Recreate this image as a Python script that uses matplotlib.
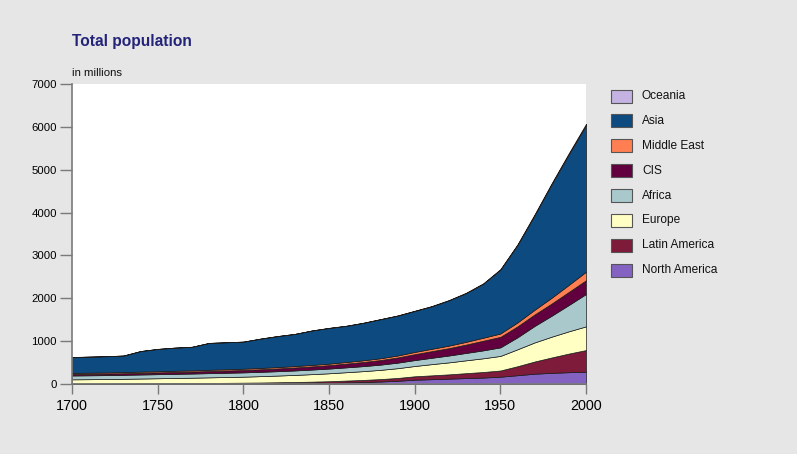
import matplotlib
matplotlib.use("Agg")
import matplotlib.pyplot as plt
from matplotlib import font_manager
from matplotlib.patches import Rectangle

# World population by region, in millions, one value per decade
years = list(range(1700, 2001, 10))
north_america = [2, 2, 2, 3, 3, 3, 4, 4, 5, 6, 7, 9, 12, 15, 20, 27, 36, 45, 58, 75,
                 100, 112, 125, 138, 150, 170, 205, 240, 260, 275, 287]
latin_america = [12, 12, 13, 14, 15, 16, 17, 18, 20, 22, 24, 26, 29, 32, 35, 38, 44, 50, 57, 66,
                 80, 90, 100, 115, 130, 145, 210, 285, 360, 435, 505]
europe = [95, 98, 100, 104, 110, 115, 120, 125, 130, 135, 140, 148, 156, 165, 175, 185, 195, 205, 215, 228,
          240, 262, 280, 300, 320, 340, 395, 445, 485, 520, 553]
africa = [90, 91, 92, 93, 94, 95, 96, 97, 98, 99, 100, 101, 102, 104, 107, 110, 113, 117, 122, 129,
          138, 148, 160, 172, 185, 200, 280, 385, 490, 615, 755]
cis = [35, 36, 37, 38, 40, 42, 44, 46, 50, 53, 56, 60, 64, 69, 74, 80, 88, 97, 107, 121,
       138, 155, 172, 195, 225, 245, 255, 268, 285, 305, 322]
middle_east = [25, 25, 26, 26, 27, 27, 28, 28, 29, 29, 30, 31, 32, 33, 34, 35, 37, 39, 42, 46,
               52, 55, 59, 64, 70, 78, 92, 110, 135, 165, 198]
asia = [369, 374, 378, 385, 479, 520, 539, 550, 626, 629, 631, 683, 723, 750, 803, 833, 844, 874, 910, 930,
        956, 991, 1056, 1136, 1259, 1489, 1807, 2208, 2652, 3048, 3420]
oceania = [2, 2, 2, 2, 2, 2, 2, 2, 2, 2, 2, 2, 2, 2, 2, 2, 3, 3, 4, 5,
           6, 7, 8, 10, 11, 13, 16, 19, 23, 27, 30]

# stacking order, bottom to top
regions = ["North America", "Latin America", "Europe", "Africa", "CIS", "Middle East", "Asia", "Oceania"]
series = [north_america, latin_america, europe, africa, cis, middle_east, asia, oceania]
colors = ["#8462c2", "#7e1a3a", "#ffffc4", "#a9c8cc", "#62003f", "#ff7f52", "#0d4a7f", "#c3b2e2"]

x_ticks = [1700, 1750, 1800, 1850, 1900, 1950, 2000]
y_ticks = [0, 1000, 2000, 3000, 4000, 5000, 6000, 7000]

available = {f.name for f in font_manager.fontManager.ttflist}
if "Liberation Sans Narrow" in available:
    FONT, k = "Liberation Sans Narrow", 1.0
else:
    FONT, k = "Liberation Sans", 0.86

BG = "#e6e6e6"
W, H = 797, 454
fig = plt.figure(figsize=(W / 100, H / 100), dpi=100, facecolor=BG)
ax = fig.add_axes([72 / W, 1 - 384 / H, (586 - 72) / W, (384 - 84) / H])
ax.set_facecolor("white")

ax.stackplot(years, *series, colors=colors, edgecolor="#1a1a1a", linewidth=0.5)

ax.set_xlim(1700, 2000)
ax.set_ylim(0, 7000)
ax.set_xticks(x_ticks)
ax.set_yticks(y_ticks)
ax.set_xticklabels([str(v) for v in x_ticks], fontsize=12 * k, family=FONT)
ax.set_yticklabels([str(v) for v in y_ticks], fontsize=9.5 * k, family=FONT)
ax.tick_params(axis="x", direction="out", length=7, width=1, color="#7a7a7a", pad=4)
ax.tick_params(axis="y", direction="out", length=9, width=1, color="#7a7a7a", pad=2)
for side in ("top", "right"):
    ax.spines[side].set_visible(False)
for side in ("left", "bottom"):
    ax.spines[side].set_color("#7a7a7a")
    ax.spines[side].set_linewidth(1.2)

# title and unit note
fig.text(72 / W, 1 - 46 / H, "Total population", fontsize=13 * k, family=FONT,
         fontweight="bold", color="#23237a", ha="left", va="baseline")
fig.text(72 / W, 1 - 76 / H, "in millions", fontsize=9.5 * k, family=FONT,
         color="#111111", ha="left", va="baseline")

# legend: top row is the top layer
for i, (name, col) in enumerate(zip(regions[::-1], colors[::-1])):
    cy = 96 + i * 24.9
    fig.patches.append(Rectangle((611 / W, 1 - (cy + 6.5) / H), 21 / W, 13 / H,
                                 transform=fig.transFigure, facecolor=col,
                                 edgecolor="#555555", linewidth=0.8))
    fig.text(642 / W, 1 - cy / H, name, fontsize=10 * k, family=FONT,
             color="#111111", ha="left", va="center")

fig.savefig("out.png", dpi=100, facecolor=BG)
